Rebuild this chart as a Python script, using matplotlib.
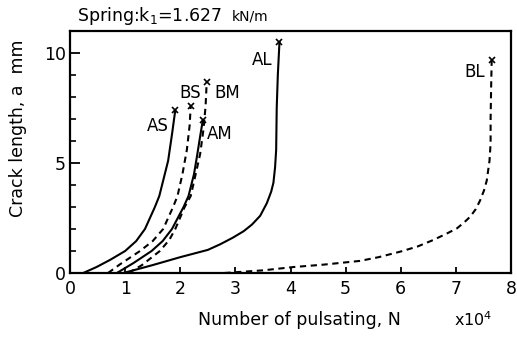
import matplotlib
matplotlib.use("Agg")
import matplotlib.pyplot as plt
from matplotlib.ticker import MultipleLocator

# Data (N in units of 1e4 cycles, a in mm)
AS_N = [0.24, 0.48, 0.73, 1.0, 1.2, 1.36, 1.54, 1.62, 1.69, 1.78, 1.85, 1.91]
AS_a = [0.0, 0.27, 0.6, 1.0, 1.45, 2.0, 3.0, 3.5, 4.2, 5.1, 6.3, 7.4]

BS_N = [0.69, 0.91, 1.27, 1.5, 1.69, 1.87, 1.95, 2.04, 2.12, 2.17, 2.19]
BS_a = [0.0, 0.4, 1.0, 1.45, 2.0, 3.0, 3.5, 4.5, 5.6, 6.7, 7.6]

AM_N = [0.85, 1.15, 1.48, 1.68, 1.85, 2.06, 2.15, 2.25, 2.31, 2.36, 2.41]
AM_a = [0.0, 0.45, 1.0, 1.45, 2.0, 3.0, 3.5, 4.5, 5.4, 6.2, 6.95]

BM_N = [1.06, 1.3, 1.63, 1.8, 1.91, 2.08, 2.19, 2.28, 2.36, 2.42, 2.46, 2.48]
BM_a = [0.0, 0.35, 1.0, 1.5, 2.0, 3.0, 3.5, 4.5, 5.4, 6.5, 7.6, 8.7]

AL_N = [0.97, 1.5, 2.0, 2.5, 2.72, 2.95, 3.15, 3.3, 3.45, 3.57, 3.65, 3.69, 3.72, 3.74, 3.75, 3.77, 3.8]
AL_a = [0.0, 0.36, 0.72, 1.05, 1.3, 1.6, 1.9, 2.2, 2.6, 3.17, 3.7, 4.1, 4.8, 5.6, 7.5, 9.0, 10.5]

BL_N = [2.8, 3.5, 4.05, 4.6, 5.26, 5.6, 5.99, 6.3, 6.59, 6.84, 7.02, 7.15, 7.26, 7.36, 7.44, 7.51, 7.56, 7.61, 7.63, 7.63, 7.64, 7.65]
BL_a = [0.0, 0.12, 0.27, 0.38, 0.55, 0.72, 0.97, 1.2, 1.5, 1.8, 2.03, 2.3, 2.56, 2.9, 3.3, 3.75, 4.2, 5.1, 5.9, 7.0, 8.5, 9.7]

labels = ["AS", "BS", "AM", "BM", "AL", "BL"]
label_pos = {"AS": (1.6, 6.7), "BS": (2.18, 8.2), "AM": (2.72, 6.3),
             "BM": (2.85, 8.2), "AL": (3.48, 9.7), "BL": (7.34, 9.15)}

xticks = [0, 1, 2, 3, 4, 5, 6, 7, 8]
yticks = [0, 5, 10]

plt.rcParams['font.family'] = ['DejaVu Sans']

fig = plt.figure(figsize=(5.17, 3.37), dpi=100)
ax = fig.add_axes([70/517, 64/337, 441/517, 242/337])

series = [(AS_N, AS_a, '-'), (BS_N, BS_a, '--'), (AM_N, AM_a, '-'),
          (BM_N, BM_a, '--'), (AL_N, AL_a, '-'), (BL_N, BL_a, '--')]
for n, a, ls in series:
    if ls == '--':
        ax.plot(n, a, color='black', lw=1.5, linestyle=(0, (3, 2.2)),
                solid_joinstyle='round', dash_joinstyle='round')
    else:
        ax.plot(n, a, color='black', lw=1.5, solid_joinstyle='round')
    ax.plot([n[-1]], [a[-1]], marker='x', color='black', ms=4, mew=1.2)

for lab in labels:
    x, y = label_pos[lab]
    ax.text(x, y, lab, fontsize=12, ha='center', va='center', color='black')

ax.set_xlim(0, 8)
ax.set_ylim(0, 11)
ax.set_xticks(xticks)
ax.set_yticks(yticks)
ax.yaxis.set_minor_locator(MultipleLocator(1))
ax.tick_params(axis='both', which='major', direction='in', labelsize=12.5, width=1.3, pad=3)
ax.tick_params(axis='y', which='major', length=7)
ax.tick_params(axis='x', which='major', length=4, pad=5)
ax.tick_params(axis='y', which='minor', direction='in', length=4, width=1.2)
for s in ax.spines.values():
    s.set_linewidth(1.6)

fig.text(299/517, 1 - 320/337, "Number of pulsating, N", ha='center', va='center', fontsize=12.5)
fig.text(473/517, 1 - 320/337, r"x10$^4$", ha='center', va='center', fontsize=11.5)
fig.text(18/517, 1 - 128/337, "Crack length, a  mm", ha='center', va='center', rotation=90, fontsize=12.5)
fig.text(77/517, 1 - 16/337, r"Spring:k$_1$=1.627", ha='left', va='center', fontsize=12.5)
fig.text(232/517, 1 - 17/337, "kN/m", ha='left', va='center', fontsize=10)

fig.savefig("out.png", dpi=100)
